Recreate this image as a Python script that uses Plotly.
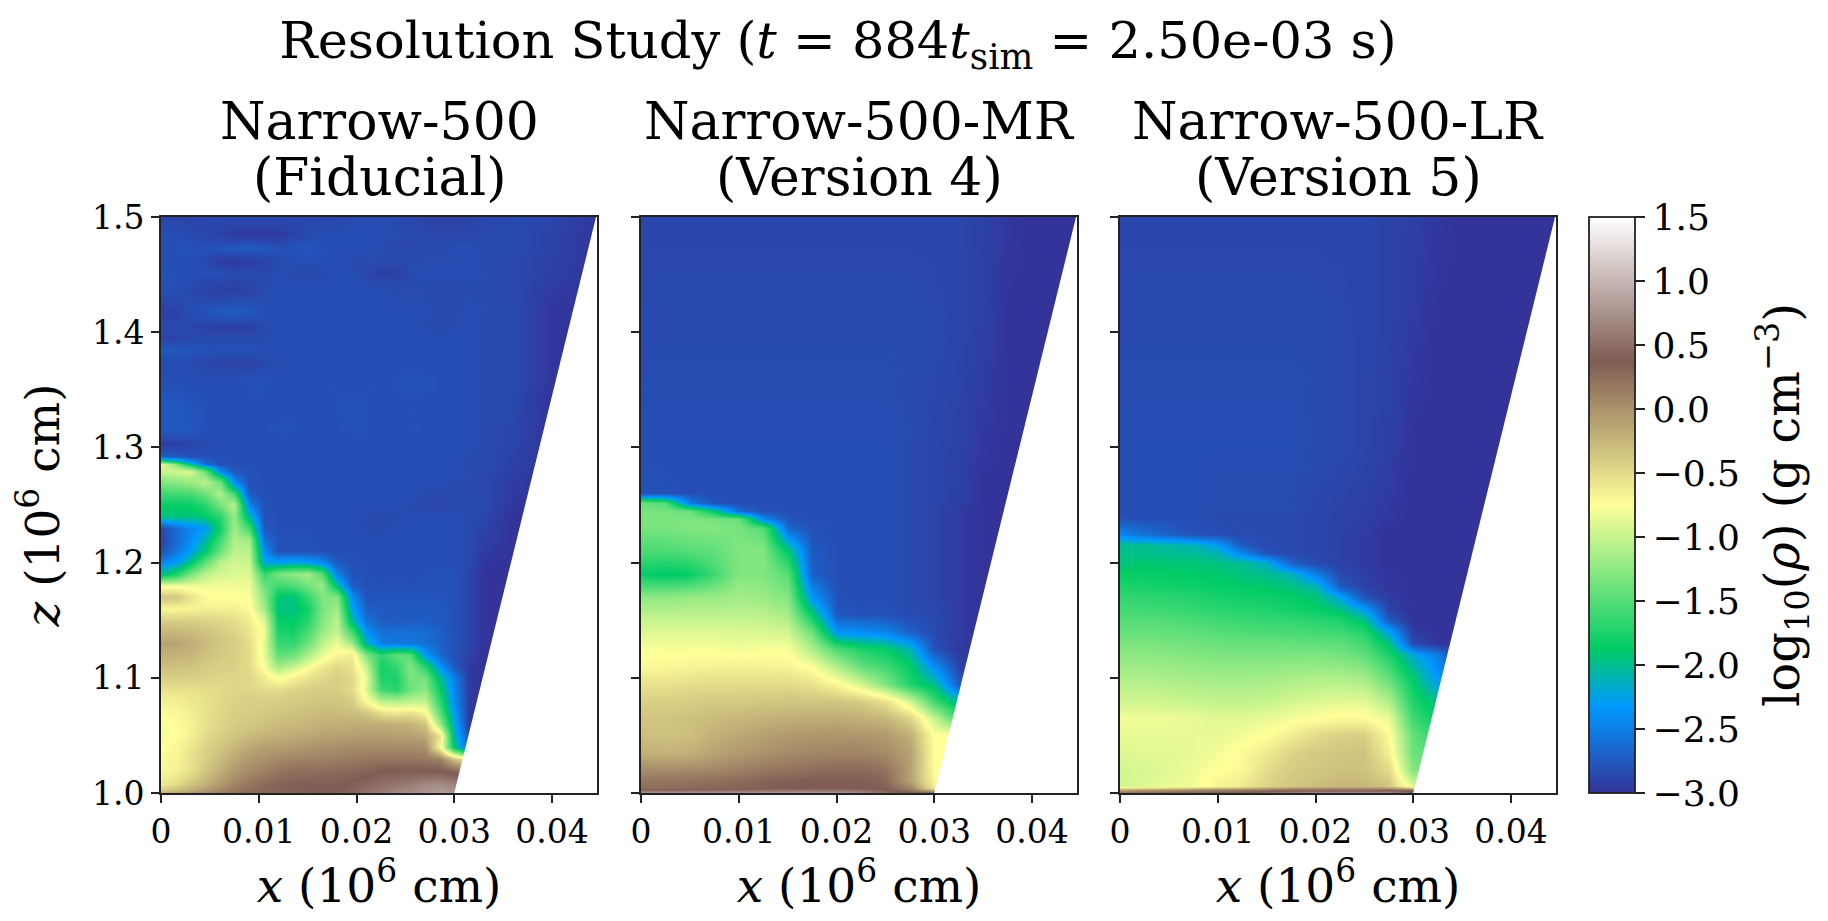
import plotly.graph_objects as go

FONT = "DejaVu Serif"

names = ["Narrow-500", "Narrow-500-MR", "Narrow-500-LR"]
versions = ["(Fiducial)", "(Version 4)", "(Version 5)"]

# white part of each panel, right of the slanted domain edge
wedge_x = [0.03, 0.0445, 0.05, 0.05]
wedge_z = [1.0, 1.5, 1.5, 1.0]

x_tick_vals = [0, 0.01, 0.02, 0.03, 0.04]
x_tick_text = ["0", "0.01", "0.02", "0.03", "0.04"]
z_tick_vals = [1.0, 1.1, 1.2, 1.3, 1.4, 1.5]
cbar_ticks = [-3, -2.5, -2, -1.5, -1, -0.5, 0, 0.5, 1, 1.5]

terrain = [
    [0.0, "rgb(51,51,153)"],
    [0.15, "rgb(0,153,255)"],
    [0.25, "rgb(0,204,102)"],
    [0.5, "rgb(255,255,153)"],
    [0.75, "rgb(128,92,84)"],
    [1.0, "rgb(255,255,255)"],
]

x_fid = [0, .0015, .003, .0045, .006, .0075, .009, .0105, .012, .0135, .015, .0165, .018,
         .0195, .021, .0225, .024, .0255, .027, .0285, .03, .0315, .033, .036, .04, .046]
z_fid = [1.0, 1.006, 1.02, 1.03, 1.04, 1.05, 1.06, 1.07, 1.08, 1.09, 1.1, 1.11, 1.12, 1.13,
         1.14, 1.15, 1.16, 1.17, 1.18, 1.19, 1.2, 1.21, 1.22, 1.23, 1.24, 1.25, 1.26, 1.27,
         1.28, 1.286, 1.29, 1.303, 1.315, 1.335, 1.36, 1.373, 1.385, 1.395, 1.405, 1.415,
         1.44, 1.45, 1.463, 1.472, 1.485, 1.5]
rho_fid = [
    [-.2, -.1, -.02, .08, .18, .25, .3, .32, .35, .35, .38, .4, .4, .45, .55, .62, .7, .75, .8, .85, .8, .8, .8, .8, .8, .8],
    [-.6, -.5, -.35, -.2, -.05, .1, .2, .28, .32, .35, .35, .35, .35, .4, .45, .5, .55, .6, .68, .7, .65, .6, .6, .6, .6, .6],
    [-.7, -.65, -.55, -.35, -.2, -.05, .05, .12, .2, .25, .25, .27, .28, .3, .32, .38, .38, .38, .38, .38, .3, .2, .2, .2, .2, .2],
    [-.72, -.68, -.55, -.42, -.28, -.15, -.05, 0, .05, .08, .1, .1, .12, .15, .18, .18, .18, .18, .18, .1, -.35, -.75, -.75, -.75, -.75, -.75],
    [-.76, -.7, -.58, -.45, -.35, -.25, -.15, -.1, -.08, -.05, -.02, 0, .02, .05, .05, .05, .05, .05, .02, -.7, -1.9, -2.7, -3, -3, -3, -3],
    [-.8, -.75, -.65, -.5, -.42, -.35, -.28, -.23, -.2, -.17, -.15, -.12, -.1, -.1, -.08, -.08, -.1, -.1, -.15, -.55, -2.1, -2.85, -3, -3, -3, -3],
    [-.78, -.74, -.66, -.55, -.46, -.4, -.36, -.32, -.28, -.26, -.24, -.2, -.2, -.18, -.18, -.18, -.2, -.22, -.35, -1.2, -2.2, -2.95, -3, -3, -3, -3],
    [-.72, -.7, -.64, -.55, -.47, -.42, -.4, -.38, -.35, -.33, -.3, -.28, -.28, -.3, -.35, -.55, -.6, -.55, -.7, -1.5, -2.3, -2.95, -3, -3, -3, -3],
    [-.65, -.65, -.6, -.55, -.48, -.44, -.42, -.42, -.4, -.38, -.36, -.35, -.35, -.4, -.72, -1.05, -1.1, -1.05, -1, -1.7, -2.4, -2.95, -3, -3, -3, -3],
    [-.55, -.55, -.55, -.52, -.5, -.47, -.46, -.5, -.5, -.45, -.42, -.4, -.4, -.5, -.9, -1.6, -1.7, -1.4, -1.25, -1.85, -2.45, -2.95, -3, -3, -3, -3],
    [-.42, -.42, -.42, -.44, -.46, -.46, -.47, -.62, -.78, -.65, -.55, -.48, -.42, -.48, -.85, -1.75, -1.75, -1.35, -1.35, -2, -2.5, -2.95, -3, -3, -3, -3],
    [-.32, -.32, -.33, -.38, -.42, -.44, -.5, -.78, -1.15, -1, -.78, -.6, -.48, -.55, -1, -1.8, -1.65, -1.3, -1.7, -2.35, -2.75, -2.95, -3, -3, -3, -3],
    [-.22, -.22, -.25, -.32, -.38, -.42, -.5, -.85, -1.45, -1.4, -1.1, -.85, -.68, -.62, -1.3, -1.7, -1.45, -1.5, -2.3, -2.65, -2.8, -2.9, -3, -3, -3, -3],
    [-.12, -.12, -.18, -.28, -.35, -.4, -.52, -.85, -1.65, -1.65, -1.4, -1.05, -.82, -1.2, -2.1, -2.5, -2.55, -2.55, -2.6, -2.7, -2.8, -2.88, -3, -3, -3, -3],
    [-.25, -.25, -.28, -.33, -.4, -.45, -.58, -.8, -1.75, -1.8, -1.55, -1.2, -1, -1.6, -2.35, -2.6, -2.6, -2.6, -2.62, -2.7, -2.8, -2.88, -3, -3, -3, -3],
    [-.42, -.42, -.42, -.45, -.48, -.52, -.62, -.9, -1.85, -1.9, -1.7, -1.3, -1.05, -2.05, -2.6, -2.72, -2.75, -2.72, -2.72, -2.75, -2.8, -2.88, -3, -3, -3, -3],
    [-.7, -.7, -.68, -.65, -.65, -.65, -.72, -1.15, -1.95, -1.97, -1.78, -1.35, -1.15, -2.25, -2.7, -2.75, -2.75, -2.75, -2.75, -2.75, -2.8, -2.88, -3, -3, -3, -3],
    [-.35, -.35, -.55, -.72, -.75, -.75, -.78, -1.25, -1.9, -1.95, -1.65, -1.3, -1.3, -2.4, -2.78, -2.78, -2.78, -2.78, -2.78, -2.78, -2.8, -2.88, -3, -3, -3, -3],
    [-.8, -.8, -.82, -.82, -.8, -.8, -.82, -1.4, -1.6, -1.55, -1.35, -1.2, -2, -2.72, -2.8, -2.8, -2.8, -2.8, -2.8, -2.8, -2.8, -2.88, -3, -3, -3, -3],
    [-2, -1.75, -1.35, -1.05, -.95, -.9, -.9, -1.65, -1.35, -1.25, -1.15, -1.5, -2.5, -2.8, -2.8, -2.82, -2.82, -2.82, -2.8, -2.8, -2.8, -2.88, -3, -3, -3, -3],
    [-2.45, -2.3, -1.95, -1.45, -1.05, -.95, -.98, -2.2, -2.25, -2.2, -2.25, -2.4, -2.75, -2.8, -2.82, -2.82, -2.82, -2.82, -2.82, -2.82, -2.82, -2.85, -2.98, -3, -3, -3],
    [-2.8, -2.55, -2.3, -1.9, -1.4, -1.05, -1.05, -2.4, -2.8, -2.8, -2.8, -2.8, -2.82, -2.82, -2.82, -2.82, -2.82, -2.82, -2.82, -2.82, -2.82, -2.85, -2.95, -3, -3, -3],
    [-2.9, -2.65, -2.42, -2.1, -1.6, -1.1, -1.15, -2.6, -2.8, -2.8, -2.8, -2.82, -2.82, -2.82, -2.82, -2.82, -2.82, -2.82, -2.82, -2.82, -2.82, -2.85, -2.92, -3, -3, -3],
    [-2.85, -2.6, -2.45, -2.3, -1.8, -1.15, -1.6, -2.75, -2.82, -2.82, -2.82, -2.82, -2.82, -2.82, -2.85, -2.85, -2.82, -2.82, -2.82, -2.82, -2.82, -2.85, -2.9, -3, -3, -3],
    [-1.95, -1.95, -1.95, -1.9, -1.7, -1.2, -2.05, -2.8, -2.82, -2.82, -2.82, -2.82, -2.82, -2.82, -2.85, -2.85, -2.85, -2.82, -2.82, -2.82, -2.82, -2.85, -2.88, -3, -3, -3],
    [-1.85, -1.85, -1.85, -1.7, -1.35, -1.05, -2.45, -2.8, -2.82, -2.82, -2.82, -2.82, -2.82, -2.82, -2.82, -2.82, -2.82, -2.85, -2.88, -2.88, -2.85, -2.85, -2.85, -2.98, -3, -3],
    [-1.6, -1.6, -1.55, -1.4, -1.1, -1.6, -2.75, -2.8, -2.82, -2.82, -2.82, -2.82, -2.82, -2.82, -2.82, -2.82, -2.82, -2.82, -2.85, -2.85, -2.85, -2.85, -2.85, -2.95, -3, -3],
    [-1.3, -1.25, -1.2, -1.05, -1.4, -2.4, -2.8, -2.82, -2.82, -2.82, -2.82, -2.82, -2.82, -2.82, -2.82, -2.82, -2.82, -2.82, -2.82, -2.82, -2.85, -2.85, -2.85, -2.95, -3, -3],
    [-1, -.95, -.9, -1.4, -2.4, -2.75, -2.8, -2.82, -2.82, -2.82, -2.82, -2.82, -2.82, -2.82, -2.82, -2.82, -2.82, -2.82, -2.82, -2.82, -2.82, -2.85, -2.85, -2.92, -3, -3],
    [-.85, -1.3, -2, -2.6, -2.8, -2.82, -2.82, -2.82, -2.82, -2.82, -2.82, -2.82, -2.82, -2.82, -2.82, -2.82, -2.82, -2.82, -2.82, -2.82, -2.82, -2.85, -2.85, -2.9, -3, -3],
    [-2.7, -2.75, -2.8, -2.8, -2.82, -2.82, -2.82, -2.82, -2.82, -2.82, -2.82, -2.82, -2.82, -2.82, -2.82, -2.82, -2.82, -2.82, -2.82, -2.82, -2.82, -2.85, -2.85, -2.9, -3, -3],
    [-2.92, -2.92, -2.88, -2.85, -2.82, -2.82, -2.82, -2.82, -2.82, -2.82, -2.82, -2.82, -2.82, -2.82, -2.82, -2.82, -2.82, -2.82, -2.82, -2.82, -2.82, -2.82, -2.85, -2.88, -3, -3],
    [-2.74, -2.74, -2.76, -2.8, -2.82, -2.82, -2.82, -2.82, -2.8, -2.8, -2.82, -2.82, -2.82, -2.8, -2.8, -2.82, -2.82, -2.8, -2.82, -2.82, -2.82, -2.82, -2.85, -2.88, -3, -3],
    [-2.74, -2.75, -2.78, -2.8, -2.82, -2.82, -2.82, -2.82, -2.82, -2.82, -2.82, -2.82, -2.8, -2.8, -2.8, -2.82, -2.82, -2.82, -2.82, -2.82, -2.82, -2.82, -2.85, -2.86, -3, -3],
    [-2.82, -2.82, -2.82, -2.82, -2.82, -2.82, -2.8, -2.8, -2.82, -2.82, -2.82, -2.82, -2.82, -2.82, -2.82, -2.82, -2.8, -2.8, -2.8, -2.82, -2.82, -2.82, -2.85, -2.85, -2.98, -3],
    [-2.85, -2.82, -2.85, -2.88, -2.9, -2.9, -2.9, -2.86, -2.85, -2.82, -2.82, -2.82, -2.82, -2.82, -2.82, -2.82, -2.82, -2.82, -2.82, -2.82, -2.82, -2.82, -2.85, -2.85, -2.98, -3],
    [-2.75, -2.76, -2.78, -2.8, -2.8, -2.8, -2.8, -2.82, -2.82, -2.82, -2.82, -2.82, -2.82, -2.82, -2.82, -2.82, -2.82, -2.82, -2.82, -2.82, -2.82, -2.82, -2.85, -2.85, -2.98, -3],
    [-2.9, -2.88, -2.85, -2.85, -2.85, -2.85, -2.85, -2.85, -2.82, -2.82, -2.82, -2.82, -2.82, -2.82, -2.82, -2.82, -2.82, -2.82, -2.82, -2.82, -2.82, -2.82, -2.85, -2.85, -2.98, -3],
    [-2.85, -2.85, -2.88, -2.9, -2.92, -2.92, -2.92, -2.85, -2.82, -2.82, -2.82, -2.82, -2.82, -2.82, -2.82, -2.82, -2.82, -2.82, -2.85, -2.87, -2.85, -2.82, -2.85, -2.85, -2.98, -3],
    [-2.92, -2.9, -2.82, -2.8, -2.75, -2.73, -2.76, -2.82, -2.82, -2.82, -2.82, -2.82, -2.82, -2.82, -2.82, -2.82, -2.82, -2.82, -2.82, -2.85, -2.85, -2.82, -2.85, -2.85, -2.98, -3],
    [-2.82, -2.82, -2.85, -2.9, -2.92, -2.92, -2.9, -2.85, -2.82, -2.82, -2.82, -2.82, -2.82, -2.82, -2.82, -2.82, -2.85, -2.85, -2.85, -2.87, -2.87, -2.85, -2.85, -2.85, -2.95, -3],
    [-2.8, -2.8, -2.82, -2.82, -2.82, -2.85, -2.85, -2.85, -2.82, -2.85, -2.87, -2.85, -2.82, -2.82, -2.87, -2.92, -2.92, -2.85, -2.82, -2.82, -2.82, -2.82, -2.85, -2.85, -2.92, -3],
    [-2.82, -2.82, -2.82, -2.86, -2.93, -2.95, -2.93, -2.9, -2.85, -2.82, -2.82, -2.82, -2.82, -2.85, -2.85, -2.85, -2.85, -2.85, -2.85, -2.85, -2.85, -2.82, -2.85, -2.85, -2.92, -3],
    [-2.82, -2.8, -2.8, -2.8, -2.78, -2.76, -2.73, -2.76, -2.8, -2.78, -2.77, -2.8, -2.82, -2.82, -2.82, -2.85, -2.87, -2.87, -2.85, -2.85, -2.82, -2.82, -2.85, -2.85, -2.9, -3],
    [-2.82, -2.82, -2.85, -2.88, -2.9, -2.95, -2.95, -2.95, -2.95, -2.9, -2.85, -2.82, -2.82, -2.82, -2.82, -2.82, -2.85, -2.85, -2.85, -2.87, -2.87, -2.87, -2.85, -2.85, -2.9, -3],
    [-2.88, -2.9, -2.9, -2.88, -2.86, -2.85, -2.85, -2.85, -2.85, -2.87, -2.88, -2.9, -2.88, -2.85, -2.85, -2.85, -2.85, -2.87, -2.9, -2.92, -2.92, -2.9, -2.88, -2.85, -2.88, -3],
    [-2.88, -2.88, -2.88, -2.88, -2.88, -2.88, -2.88, -2.88, -2.88, -2.88, -2.88, -2.88, -2.88, -2.9, -2.92, -2.92, -2.92, -2.92, -2.9, -2.88, -2.88, -2.88, -2.88, -2.88, -2.88, -3],
]

x_mr = [0, .0025, .005, .0075, .01, .0125, .015, .0175, .02, .0225, .025,
        .0275, .03, .0325, .035, .0375, .04, .0425, .045]
z_mr = [1.0, 1.004, 1.01, 1.02, 1.035, 1.05, 1.065, 1.08, 1.095, 1.11, 1.125,
        1.14, 1.155, 1.17, 1.19, 1.21, 1.23, 1.238, 1.245, 1.252, 1.26, 1.3, 1.4, 1.5]
rho_mr = [
    [.8, .8, .8, .8, .8, .8, .8, .8, .8, .7, .5, .4, .4, .4, .4, .4, .4, .4, .4],
    [.25, .25, .28, .3, .32, .35, .37, .38, .38, .38, .35, .1, -.6, -.7, -.7, -.7, -.7, -.7, -.7],
    [.2, .2, .22, .25, .28, .32, .36, .38, .38, .38, .3, -.1, -.7, -.7, -.7, -.7, -.7, -.7, -.7],
    [.05, .05, .05, .08, .12, .18, .22, .25, .28, .28, .22, -.1, -.75, -.75, -.75, -.75, -.75, -.75, -.75],
    [-.2, -.22, -.2, -.12, -.05, 0, .05, .08, .1, .1, .05, -.1, -.75, -.75, -.75, -.75, -.75, -.75, -.75],
    [-.3, -.32, -.3, -.2, -.15, -.1, -.05, -.03, -.02, -.03, -.05, -.2, -.75, -.75, -.75, -.75, -.75, -.75, -.75],
    [-.35, -.35, -.32, -.28, -.25, -.22, -.2, -.18, -.18, -.2, -.25, -.45, -1, -1.6, -1.6, -1.6, -1.6, -1.6, -1.6],
    [-.42, -.42, -.4, -.38, -.38, -.36, -.35, -.35, -.35, -.4, -.55, -.95, -1.6, -2.1, -2.9, -3, -3, -3, -3],
    [-.55, -.55, -.52, -.5, -.5, -.5, -.5, -.55, -.7, -.95, -1.3, -1.75, -2, -2.75, -3, -3, -3, -3, -3],
    [-.7, -.7, -.68, -.66, -.66, -.66, -.68, -.78, -1.1, -1.45, -1.6, -1.85, -2.4, -2.9, -3, -3, -3, -3, -3],
    [-.78, -.78, -.78, -.78, -.8, -.78, -.78, -1.1, -1.55, -1.75, -1.85, -2.1, -2.8, -2.95, -3, -3, -3, -3, -3],
    [-.9, -.9, -.9, -.9, -.9, -.92, -.95, -1.4, -2.35, -2.4, -2.45, -2.7, -2.85, -2.95, -3, -3, -3, -3, -3],
    [-1.05, -1.05, -1.05, -1.05, -1.05, -1.05, -1.15, -1.9, -2.75, -2.8, -2.8, -2.85, -2.85, -2.95, -3, -3, -3, -3, -3],
    [-1.25, -1.25, -1.2, -1.2, -1.15, -1.2, -1.3, -2.35, -2.8, -2.82, -2.82, -2.85, -2.88, -2.95, -3, -3, -3, -3, -3],
    [-1.85, -1.9, -1.85, -1.6, -1.3, -1.3, -1.5, -2.7, -2.82, -2.82, -2.82, -2.85, -2.88, -2.95, -3, -3, -3, -3, -3],
    [-1.55, -1.55, -1.5, -1.45, -1.3, -1.3, -1.9, -2.75, -2.82, -2.82, -2.82, -2.85, -2.88, -2.95, -3, -3, -3, -3, -3],
    [-1.35, -1.35, -1.3, -1.3, -1.35, -1.5, -2.65, -2.8, -2.82, -2.82, -2.82, -2.85, -2.88, -2.95, -3, -3, -3, -3, -3],
    [-1.33, -1.33, -1.33, -1.35, -1.4, -2.4, -2.78, -2.82, -2.82, -2.82, -2.82, -2.85, -2.88, -2.95, -3, -3, -3, -3, -3],
    [-1.35, -1.35, -1.4, -1.9, -2.6, -2.8, -2.82, -2.82, -2.82, -2.82, -2.82, -2.85, -2.88, -2.95, -3, -3, -3, -3, -3],
    [-1.4, -1.5, -2.5, -2.78, -2.82, -2.82, -2.82, -2.82, -2.82, -2.82, -2.82, -2.85, -2.88, -2.92, -3, -3, -3, -3, -3],
    [-2.8, -2.8, -2.82, -2.82, -2.82, -2.82, -2.82, -2.82, -2.82, -2.82, -2.82, -2.85, -2.88, -2.92, -3, -3, -3, -3, -3],
    [-2.82, -2.82, -2.82, -2.82, -2.82, -2.82, -2.82, -2.82, -2.82, -2.82, -2.82, -2.85, -2.88, -2.9, -2.97, -3, -3, -3, -3],
    [-2.85, -2.85, -2.85, -2.85, -2.85, -2.85, -2.85, -2.85, -2.85, -2.85, -2.85, -2.85, -2.86, -2.88, -2.92, -3, -3, -3, -3],
    [-2.88, -2.88, -2.88, -2.88, -2.88, -2.88, -2.88, -2.88, -2.88, -2.88, -2.88, -2.88, -2.88, -2.88, -2.9, -2.97, -3, -3, -3],
]

x_lr = [0, .0025, .005, .0075, .01, .0125, .015, .0175, .02, .0225, .025,
        .0275, .03, .0325, .035, .0375, .04, .0425, .045]
z_lr = [1.0, 1.003, 1.006, 1.02, 1.035, 1.05, 1.065, 1.08, 1.1, 1.12, 1.13, 1.14, 1.15,
        1.16, 1.17, 1.18, 1.19, 1.2, 1.208, 1.215, 1.225, 1.24, 1.3, 1.4, 1.5]
rho_lr = [
    [.3, .3, .35, .35, .4, .4, .6, .7, .8, .8, .8, .8, .4, .4, .4, .4, .4, .4, .4],
    [-.1, 0, .05, .1, .15, .2, .25, .3, .3, .3, .3, .35, .3, .3, .3, .3, .3, .3, .3],
    [-.95, -.9, -.85, -.8, -.68, -.6, -.45, -.35, -.3, -.25, -.25, -.35, -.9, -1.2, -1.2, -1.2, -1.2, -1.2, -1.2],
    [-.95, -.92, -.88, -.82, -.75, -.7, -.5, -.4, -.35, -.32, -.32, -.5, -1.3, -1.4, -1.4, -1.4, -1.4, -1.4, -1.4],
    [-.9, -.88, -.88, -.85, -.8, -.72, -.6, -.45, -.38, -.35, -.33, -.65, -1.4, -1.5, -1.5, -1.5, -1.5, -1.5, -1.5],
    [-.85, -.85, -.85, -.85, -.85, -.8, -.75, -.62, -.5, -.42, -.42, -.72, -1.45, -1.7, -1.7, -1.7, -1.7, -1.7, -1.7],
    [-.8, -.82, -.82, -.85, -.88, -.88, -.85, -.8, -.75, -.72, -.72, -.85, -1.6, -1.9, -1.9, -1.9, -1.9, -1.9, -1.9],
    [-.95, -.95, -.98, -1, -1.02, -1.02, -1, -.95, -.9, -.88, -.88, -1.1, -1.75, -2, -2, -2, -2, -2, -2],
    [-1.1, -1.1, -1.12, -1.14, -1.16, -1.16, -1.15, -1.12, -1.1, -1.1, -1.15, -1.45, -1.9, -2.35, -2.35, -2.35, -2.35, -2.35, -2.35],
    [-1.25, -1.25, -1.27, -1.3, -1.32, -1.32, -1.32, -1.32, -1.32, -1.35, -1.45, -1.75, -2.2, -2.5, -3, -3, -3, -3, -3],
    [-1.33, -1.33, -1.35, -1.38, -1.4, -1.42, -1.42, -1.43, -1.45, -1.47, -1.58, -1.95, -2.85, -3, -3, -3, -3, -3, -3],
    [-1.42, -1.42, -1.44, -1.46, -1.5, -1.52, -1.54, -1.55, -1.58, -1.6, -1.72, -2.25, -2.95, -3, -3, -3, -3, -3, -3],
    [-1.5, -1.5, -1.52, -1.55, -1.6, -1.62, -1.65, -1.66, -1.7, -1.75, -1.95, -2.75, -3, -3, -3, -3, -3, -3, -3],
    [-1.58, -1.6, -1.62, -1.65, -1.7, -1.72, -1.75, -1.8, -1.85, -1.95, -2.3, -2.9, -3, -3, -3, -3, -3, -3, -3],
    [-1.66, -1.68, -1.7, -1.72, -1.78, -1.8, -1.82, -1.85, -1.92, -2.25, -2.8, -2.95, -3, -3, -3, -3, -3, -3, -3],
    [-1.75, -1.78, -1.8, -1.82, -1.85, -1.88, -1.9, -1.95, -2.1, -2.75, -2.9, -2.98, -3, -3, -3, -3, -3, -3, -3],
    [-1.85, -1.85, -1.86, -1.88, -1.9, -1.95, -2, -2.1, -2.5, -2.85, -2.92, -2.98, -3, -3, -3, -3, -3, -3, -3],
    [-1.95, -1.9, -1.92, -1.92, -1.95, -2, -2.15, -2.7, -2.85, -2.9, -2.95, -3, -3, -3, -3, -3, -3, -3, -3],
    [-1.98, -1.98, -2, -2.02, -2.1, -2.45, -2.8, -2.85, -2.88, -2.9, -2.95, -3, -3, -3, -3, -3, -3, -3, -3],
    [-2, -2, -2.05, -2.1, -2.3, -2.75, -2.85, -2.85, -2.88, -2.9, -2.95, -3, -3, -3, -3, -3, -3, -3, -3],
    [-2.45, -2.6, -2.7, -2.8, -2.82, -2.85, -2.85, -2.85, -2.88, -2.9, -2.95, -3, -3, -3, -3, -3, -3, -3, -3],
    [-2.82, -2.82, -2.82, -2.82, -2.85, -2.85, -2.85, -2.85, -2.88, -2.9, -2.92, -2.97, -3, -3, -3, -3, -3, -3, -3],
    [-2.82, -2.82, -2.82, -2.82, -2.82, -2.82, -2.82, -2.82, -2.85, -2.86, -2.88, -2.92, -3, -3, -3, -3, -3, -3, -3],
    [-2.85, -2.85, -2.85, -2.85, -2.85, -2.85, -2.85, -2.85, -2.85, -2.86, -2.88, -2.9, -2.95, -3, -3, -3, -3, -3, -3],
    [-2.88, -2.88, -2.88, -2.88, -2.88, -2.88, -2.88, -2.88, -2.88, -2.88, -2.88, -2.9, -2.92, -2.97, -3, -3, -3, -3, -3],
]

# the page keeps its 8 px body margin, positions below are window pixels
PAGE_W, PAGE_H = 1828, 921
W, H = PAGE_W - 16, PAGE_H - 16


def px(x):
    return (x - 8) / W


def py(y):
    return 1 - (y - 8) / H


panels = [(161, 597), (641, 1077), (1120, 1556)]
top, bottom = 217, 793

fig = go.Figure()
grids = [(x_fid, z_fid, rho_fid), (x_mr, z_mr, rho_mr), (x_lr, z_lr, rho_lr)]
for i, (xs, zs, rho) in enumerate(grids):
    suffix = "" if i == 0 else str(i + 1)
    fig.add_trace(
        go.Heatmap(
            x=xs, y=zs, z=rho, zsmooth="best", coloraxis="coloraxis",
            xaxis="x" + suffix, yaxis="y" + suffix, hoverinfo="skip",
        )
    )
    fig.add_trace(
        go.Scatter(
            x=wedge_x, y=wedge_z, fill="toself", fillcolor="white", mode="lines",
            line=dict(width=0, color="white"), showlegend=False, hoverinfo="skip",
            xaxis="x" + suffix, yaxis="y" + suffix,
        )
    )

axis_style = dict(
    ticks="outside", ticklen=8, tickwidth=1.5, tickcolor="#222", showline=True,
    linecolor="#222", linewidth=1.8, mirror=True, showgrid=False, zeroline=False,
    tickfont=dict(family=FONT, size=33, color="black"),
)
title_font = dict(family=FONT, size=47, color="black")

annotations = []
for i, (left, right) in enumerate(panels):
    suffix = "" if i == 0 else str(i + 1)
    y_axis = dict(
        domain=[py(bottom), py(top)], range=[1.0, 1.5], anchor="x" + suffix,
        tickvals=z_tick_vals, tickformat=".1f", showticklabels=i == 0,
        **axis_style,
    )
    if i == 0:
        y_axis["title"] = dict(
            text="<i>z</i> (10<sup>6</sup> cm)", font=title_font, standoff=30,
        )
    fig.update_layout(
        {
            "xaxis" + suffix: dict(
                domain=[px(left), px(right)], range=[0, 0.0446], anchor="y" + suffix,
                tickvals=x_tick_vals, ticktext=x_tick_text,
                title=dict(text="<i>x</i> (10<sup>6</sup> cm)", font=title_font, standoff=30),
                **axis_style,
            ),
            "yaxis" + suffix: y_axis,
        }
    )
    center = px((left + right) / 2)
    for text, y_px in [(names[i], 121), (versions[i], 177)]:
        annotations.append(
            dict(
                text=text, x=center, y=py(y_px), xref="paper", yref="paper",
                showarrow=False, xanchor="center", yanchor="middle",
                font=dict(family=FONT, size=52, color="black"),
            )
        )

annotations.append(
    dict(
        text="log<sub>10</sub>(<i>ρ</i>) (g cm<sup>−3</sup>)", x=px(1782), y=py(505),
        xref="paper", yref="paper", showarrow=False, textangle=-90,
        xanchor="center", yanchor="middle",
        font=dict(family=FONT, size=48, color="black"),
    )
)

fig.update_layout(
    width=W,
    height=H,
    margin=dict(l=0, r=0, t=0, b=0, autoexpand=False),
    paper_bgcolor="white",
    plot_bgcolor="white",
    showlegend=False,
    title=dict(
        text="Resolution Study (<i>t</i> = 884<i>t</i><sub>sim</sub> = 2.50e-03 s)",
        x=px(838), y=py(40), xanchor="center", yanchor="middle",
        font=dict(family=FONT, size=51, color="black"),
    ),
    annotations=annotations,
    coloraxis=dict(
        colorscale=terrain,
        cmin=-3,
        cmax=1.5,
        colorbar=dict(
            x=px(1589), xanchor="left", xpad=0, ypad=0, thickness=46, thicknessmode="pixels",
            len=(bottom - top) / H, lenmode="fraction", y=py(top), yanchor="top",
            tickvals=cbar_ticks, tickformat=".1f", ticks="outside", ticklen=10, tickwidth=1.5,
            tickcolor="#222", outlinecolor="#222", outlinewidth=1.8, borderwidth=0,
            tickfont=dict(family=FONT, size=36, color="black"),
        ),
    ),
)

fig.write_html("out.html", config={"displayModeBar": False})
